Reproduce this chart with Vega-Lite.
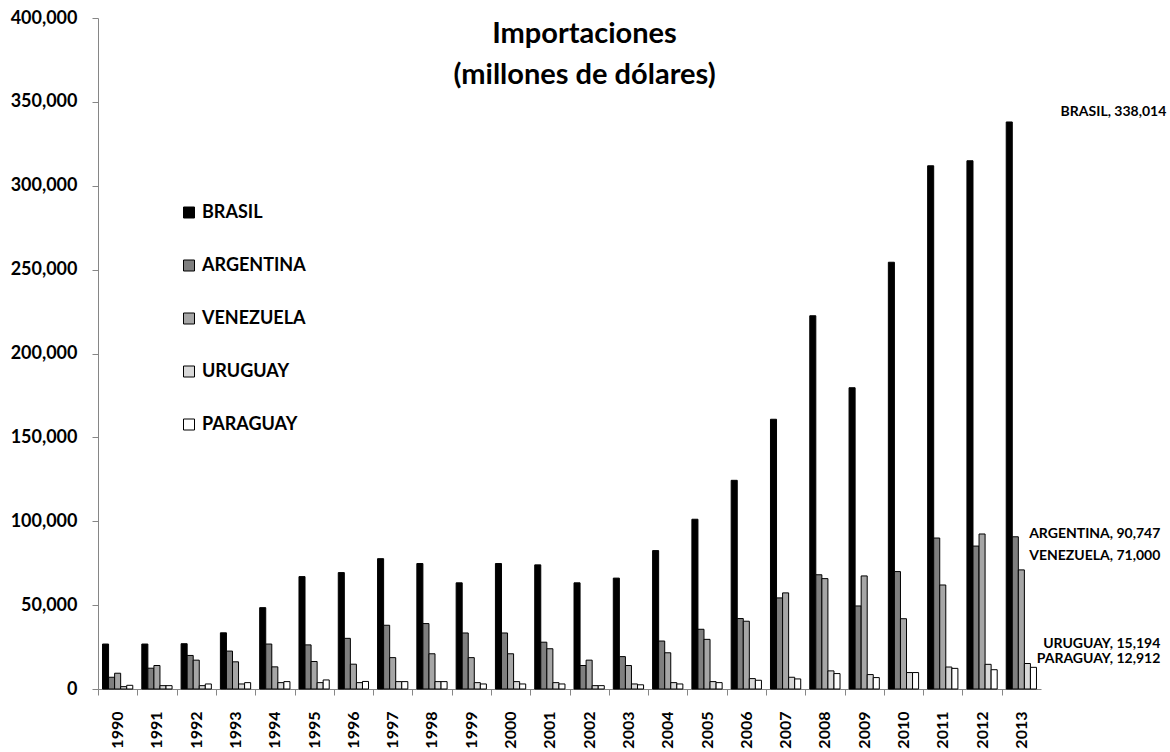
{
  "$schema": "https://vega.github.io/schema/vega-lite/v6.json",
  "width": 943,
  "height": 671,
  "autosize": {"type": "none"},
  "padding": {"left": 98, "top": 18, "right": 129, "bottom": 63},
  "background": "white",
  "config": {"view": {"stroke": null}, "font": "Lato"},
  "title": {
    "text": ["Importaciones", "(millones de dólares)"],
    "font": "Lato",
    "fontSize": 29,
    "fontWeight": "bold",
    "color": "black",
    "anchor": "middle",
    "frame": "group",
    "dx": 15,
    "offset": -104,
    "lineHeight": 41,
    "baseline": "alphabetic"
  },
  "data": {
    "values": [
      {"year": 1990, "country": "BRASIL", "value": 26800},
      {"year": 1990, "country": "ARGENTINA", "value": 7000},
      {"year": 1990, "country": "VENEZUELA", "value": 9400},
      {"year": 1990, "country": "URUGUAY", "value": 1400},
      {"year": 1990, "country": "PARAGUAY", "value": 2200},
      {"year": 1991, "country": "BRASIL", "value": 26800},
      {"year": 1991, "country": "ARGENTINA", "value": 12400},
      {"year": 1991, "country": "VENEZUELA", "value": 14000},
      {"year": 1991, "country": "URUGUAY", "value": 2000},
      {"year": 1991, "country": "PARAGUAY", "value": 2000},
      {"year": 1992, "country": "BRASIL", "value": 27000},
      {"year": 1992, "country": "ARGENTINA", "value": 20000},
      {"year": 1992, "country": "VENEZUELA", "value": 17200},
      {"year": 1992, "country": "URUGUAY", "value": 2000},
      {"year": 1992, "country": "PARAGUAY", "value": 3000},
      {"year": 1993, "country": "BRASIL", "value": 33500},
      {"year": 1993, "country": "ARGENTINA", "value": 22600},
      {"year": 1993, "country": "VENEZUELA", "value": 16200},
      {"year": 1993, "country": "URUGUAY", "value": 3000},
      {"year": 1993, "country": "PARAGUAY", "value": 3800},
      {"year": 1994, "country": "BRASIL", "value": 48500},
      {"year": 1994, "country": "ARGENTINA", "value": 26800},
      {"year": 1994, "country": "VENEZUELA", "value": 13200},
      {"year": 1994, "country": "URUGUAY", "value": 3800},
      {"year": 1994, "country": "PARAGUAY", "value": 4400},
      {"year": 1995, "country": "BRASIL", "value": 67000},
      {"year": 1995, "country": "ARGENTINA", "value": 26300},
      {"year": 1995, "country": "VENEZUELA", "value": 16400},
      {"year": 1995, "country": "URUGUAY", "value": 3800},
      {"year": 1995, "country": "PARAGUAY", "value": 5400},
      {"year": 1996, "country": "BRASIL", "value": 69400},
      {"year": 1996, "country": "ARGENTINA", "value": 30200},
      {"year": 1996, "country": "VENEZUELA", "value": 14800},
      {"year": 1996, "country": "URUGUAY", "value": 3800},
      {"year": 1996, "country": "PARAGUAY", "value": 4500},
      {"year": 1997, "country": "BRASIL", "value": 77700},
      {"year": 1997, "country": "ARGENTINA", "value": 38000},
      {"year": 1997, "country": "VENEZUELA", "value": 18700},
      {"year": 1997, "country": "URUGUAY", "value": 4400},
      {"year": 1997, "country": "PARAGUAY", "value": 4400},
      {"year": 1998, "country": "BRASIL", "value": 74800},
      {"year": 1998, "country": "ARGENTINA", "value": 39000},
      {"year": 1998, "country": "VENEZUELA", "value": 21000},
      {"year": 1998, "country": "URUGUAY", "value": 4400},
      {"year": 1998, "country": "PARAGUAY", "value": 4400},
      {"year": 1999, "country": "BRASIL", "value": 63300},
      {"year": 1999, "country": "ARGENTINA", "value": 33400},
      {"year": 1999, "country": "VENEZUELA", "value": 18700},
      {"year": 1999, "country": "URUGUAY", "value": 3800},
      {"year": 1999, "country": "PARAGUAY", "value": 3000},
      {"year": 2000, "country": "BRASIL", "value": 74800},
      {"year": 2000, "country": "ARGENTINA", "value": 33400},
      {"year": 2000, "country": "VENEZUELA", "value": 21000},
      {"year": 2000, "country": "URUGUAY", "value": 4400},
      {"year": 2000, "country": "PARAGUAY", "value": 3000},
      {"year": 2001, "country": "BRASIL", "value": 74000},
      {"year": 2001, "country": "ARGENTINA", "value": 27900},
      {"year": 2001, "country": "VENEZUELA", "value": 24000},
      {"year": 2001, "country": "URUGUAY", "value": 3800},
      {"year": 2001, "country": "PARAGUAY", "value": 3000},
      {"year": 2002, "country": "BRASIL", "value": 63300},
      {"year": 2002, "country": "ARGENTINA", "value": 14000},
      {"year": 2002, "country": "VENEZUELA", "value": 17200},
      {"year": 2002, "country": "URUGUAY", "value": 2000},
      {"year": 2002, "country": "PARAGUAY", "value": 2000},
      {"year": 2003, "country": "BRASIL", "value": 66100},
      {"year": 2003, "country": "ARGENTINA", "value": 19300},
      {"year": 2003, "country": "VENEZUELA", "value": 14000},
      {"year": 2003, "country": "URUGUAY", "value": 3000},
      {"year": 2003, "country": "PARAGUAY", "value": 2500},
      {"year": 2004, "country": "BRASIL", "value": 82500},
      {"year": 2004, "country": "ARGENTINA", "value": 28600},
      {"year": 2004, "country": "VENEZUELA", "value": 21600},
      {"year": 2004, "country": "URUGUAY", "value": 3800},
      {"year": 2004, "country": "PARAGUAY", "value": 3000},
      {"year": 2005, "country": "BRASIL", "value": 101200},
      {"year": 2005, "country": "ARGENTINA", "value": 35600},
      {"year": 2005, "country": "VENEZUELA", "value": 29600},
      {"year": 2005, "country": "URUGUAY", "value": 4400},
      {"year": 2005, "country": "PARAGUAY", "value": 3800},
      {"year": 2006, "country": "BRASIL", "value": 124400},
      {"year": 2006, "country": "ARGENTINA", "value": 42000},
      {"year": 2006, "country": "VENEZUELA", "value": 40400},
      {"year": 2006, "country": "URUGUAY", "value": 6200},
      {"year": 2006, "country": "PARAGUAY", "value": 5200},
      {"year": 2007, "country": "BRASIL", "value": 160800},
      {"year": 2007, "country": "ARGENTINA", "value": 54300},
      {"year": 2007, "country": "VENEZUELA", "value": 57300},
      {"year": 2007, "country": "URUGUAY", "value": 7000},
      {"year": 2007, "country": "PARAGUAY", "value": 6000},
      {"year": 2008, "country": "BRASIL", "value": 222500},
      {"year": 2008, "country": "ARGENTINA", "value": 68100},
      {"year": 2008, "country": "VENEZUELA", "value": 65800},
      {"year": 2008, "country": "URUGUAY", "value": 10800},
      {"year": 2008, "country": "PARAGUAY", "value": 9200},
      {"year": 2009, "country": "BRASIL", "value": 179600},
      {"year": 2009, "country": "ARGENTINA", "value": 49500},
      {"year": 2009, "country": "VENEZUELA", "value": 67400},
      {"year": 2009, "country": "URUGUAY", "value": 8600},
      {"year": 2009, "country": "PARAGUAY", "value": 6800},
      {"year": 2010, "country": "BRASIL", "value": 254400},
      {"year": 2010, "country": "ARGENTINA", "value": 70000},
      {"year": 2010, "country": "VENEZUELA", "value": 41900},
      {"year": 2010, "country": "URUGUAY", "value": 9800},
      {"year": 2010, "country": "PARAGUAY", "value": 9800},
      {"year": 2011, "country": "BRASIL", "value": 311900},
      {"year": 2011, "country": "ARGENTINA", "value": 90000},
      {"year": 2011, "country": "VENEZUELA", "value": 62000},
      {"year": 2011, "country": "URUGUAY", "value": 13100},
      {"year": 2011, "country": "PARAGUAY", "value": 12300},
      {"year": 2012, "country": "BRASIL", "value": 314900},
      {"year": 2012, "country": "ARGENTINA", "value": 85200},
      {"year": 2012, "country": "VENEZUELA", "value": 92400},
      {"year": 2012, "country": "URUGUAY", "value": 14700},
      {"year": 2012, "country": "PARAGUAY", "value": 11500},
      {"year": 2013, "country": "BRASIL", "value": 338014},
      {"year": 2013, "country": "ARGENTINA", "value": 90747},
      {"year": 2013, "country": "VENEZUELA", "value": 71000},
      {"year": 2013, "country": "URUGUAY", "value": 15194},
      {"year": 2013, "country": "PARAGUAY", "value": 12912}
    ]
  },
  "encoding": {
    "x": {
      "field": "year",
      "type": "ordinal",
      "scale": {"paddingInner": 0.23, "paddingOuter": 0.115},
      "axis": {
        "title": null,
        "labelAngle": -90,
        "labelFont": "Lato",
        "labelFontSize": 16,
        "labelFontWeight": "bold",
        "labelColor": "black",
        "labelPadding": 16,
        "tickSize": 6,
        "tickColor": "#868686",
        "domainColor": "#868686",
        "tickOffset": -19.6,
        "labelOffset": 19.6,
        "grid": false
      }
    },
    "y": {
      "field": "value",
      "type": "quantitative",
      "scale": {"domain": [0, 400000], "nice": false},
      "axis": {
        "title": null,
        "values": [0, 50000, 100000, 150000, 200000, 250000, 300000, 350000, 400000],
        "format": ",d",
        "labelFont": "Lato",
        "labelFontSize": 18,
        "labelFontWeight": "bold",
        "labelColor": "black",
        "labelPadding": 15,
        "tickSize": 6,
        "tickColor": "#868686",
        "domainColor": "#868686",
        "grid": false
      }
    }
  },
  "layer": [
    {
      "mark": {"type": "bar", "stroke": "black", "strokeWidth": 1},
      "encoding": {
        "xOffset": {"field": "country", "sort": ["BRASIL", "ARGENTINA", "VENEZUELA", "URUGUAY", "PARAGUAY"], "scale": {"paddingInner": 0, "paddingOuter": 0}},
        "color": {
          "field": "country",
          "type": "nominal",
          "sort": ["BRASIL", "ARGENTINA", "VENEZUELA", "URUGUAY", "PARAGUAY"],
          "scale": {"domain": ["BRASIL", "ARGENTINA", "VENEZUELA", "URUGUAY", "PARAGUAY"], "range": ["#000000", "#7f7f7f", "#a6a6a6", "#d9d9d9", "#ffffff"]},
          "legend": {
            "orient": "none",
            "legendX": 82,
            "legendY": 185.5,
            "title": null,
            "padding": 0,
            "symbolType": "square",
            "symbolSize": 121,
            "symbolStrokeColor": "black",
            "symbolStrokeWidth": 1,
            "symbolOpacity": 1,
            "labelFont": "Lato",
            "labelFontSize": 18,
            "labelFontWeight": "bold",
            "labelColor": "black",
            "labelOffset": 4,
            "rowPadding": 35
          }
        }
      }
    },
    {
      "transform": [
        {"filter": "datum.year == 2013 && datum.country == 'BRASIL'"},
        {"calculate": "datum.country + ', ' + format(datum.value, ',')", "as": "label"}
      ],
      "mark": {"type": "text", "align": "right", "baseline": "middle", "dx": 145, "dy": -10, "font": "Lato", "fontSize": 14, "fontWeight": "bold", "color": "black"},
      "encoding": {"text": {"field": "label"}}
    },
    {
      "transform": [
        {"filter": "datum.year == 2013 && datum.country == 'ARGENTINA'"},
        {"calculate": "datum.country + ', ' + format(datum.value, ',')", "as": "label"}
      ],
      "mark": {"type": "text", "align": "right", "baseline": "middle", "dx": 139, "dy": -2.5, "font": "Lato", "fontSize": 14, "fontWeight": "bold", "color": "black"},
      "encoding": {"text": {"field": "label"}}
    },
    {
      "transform": [
        {"filter": "datum.year == 2013 && datum.country == 'VENEZUELA'"},
        {"calculate": "datum.country + ', ' + format(datum.value, ',')", "as": "label"}
      ],
      "mark": {"type": "text", "align": "right", "baseline": "middle", "dx": 139, "dy": -14, "font": "Lato", "fontSize": 14, "fontWeight": "bold", "color": "black"},
      "encoding": {"text": {"field": "label"}}
    },
    {
      "transform": [
        {"filter": "datum.year == 2013 && datum.country == 'URUGUAY'"},
        {"calculate": "datum.country + ', ' + format(datum.value, ',')", "as": "label"}
      ],
      "mark": {"type": "text", "align": "right", "baseline": "middle", "dx": 139, "dy": -20, "font": "Lato", "fontSize": 14, "fontWeight": "bold", "color": "black"},
      "encoding": {"text": {"field": "label"}}
    },
    {
      "transform": [
        {"filter": "datum.year == 2013 && datum.country == 'PARAGUAY'"},
        {"calculate": "datum.country + ', ' + format(datum.value, ',')", "as": "label"}
      ],
      "mark": {"type": "text", "align": "right", "baseline": "middle", "dx": 139, "dy": -8, "font": "Lato", "fontSize": 14, "fontWeight": "bold", "color": "black"},
      "encoding": {"text": {"field": "label"}}
    }
  ]
}
